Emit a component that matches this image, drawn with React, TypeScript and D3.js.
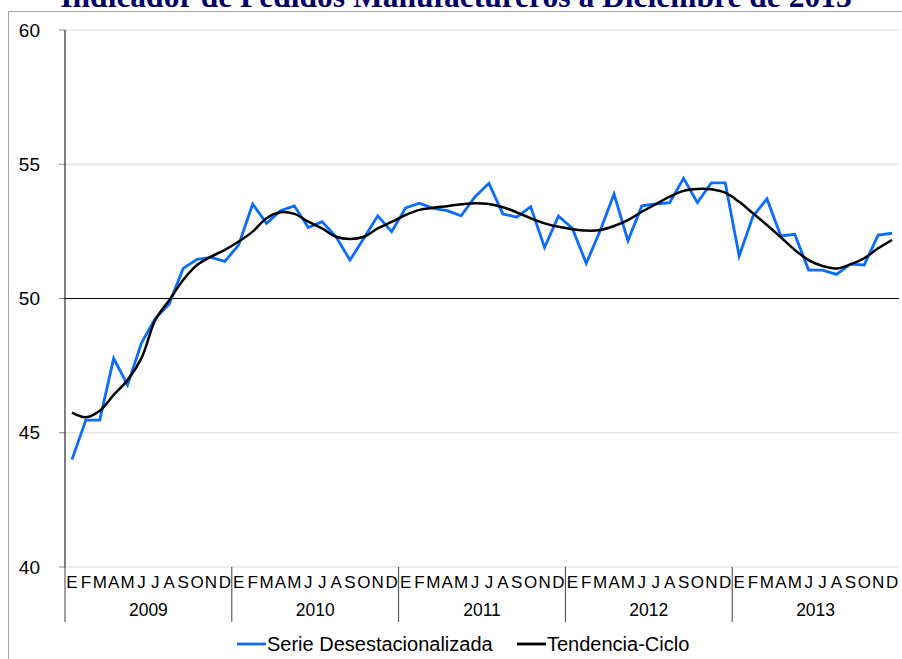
import React from "react";
import * as d3 from "d3";

const years = ["2009", "2010", "2011", "2012", "2013"];
const monthLetters = ["E", "F", "M", "A", "M", "J", "J", "A", "S", "O", "N", "D"];
const yTicks = [40, 45, 50, 55, 60];

// Serie desestacionalizada, ene-2009 .. dic-2013
const serie = [
  44.0, 45.47, 45.47, 47.77, 46.78, 48.34, 49.26, 49.8, 51.12, 51.46, 51.53, 51.38,
  52.0, 53.52, 52.8, 53.27, 53.45, 52.64, 52.86, 52.3, 51.43, 52.24, 53.08, 52.49,
  53.37, 53.55, 53.36, 53.27, 53.08, 53.79, 54.29, 53.15, 53.03, 53.42, 51.9, 53.07,
  52.61, 51.31, 52.52, 53.89, 52.15, 53.45, 53.52, 53.57, 54.48, 53.57, 54.31, 54.31,
  51.58, 53.07, 53.71, 52.33, 52.39, 51.06, 51.06, 50.9, 51.28, 51.25, 52.36, 52.43,
];

// Tendencia-ciclo
const tendencia = [
  45.75, 45.58, 45.82, 46.41, 46.96, 47.78, 49.2, 49.94, 50.69, 51.25, 51.56, 51.81,
  52.12, 52.49, 52.99, 53.21, 53.15, 52.86, 52.61, 52.3, 52.22, 52.3, 52.61, 52.85,
  53.11, 53.3, 53.38, 53.44, 53.51, 53.55, 53.52, 53.4, 53.21, 52.99, 52.8, 52.67,
  52.58, 52.53, 52.55, 52.7, 52.92, 53.23, 53.51, 53.79, 54.01, 54.08, 54.07, 53.94,
  53.6, 53.17, 52.74, 52.28, 51.81, 51.43, 51.21, 51.12, 51.27, 51.5, 51.87, 52.18,
];

const width = 902;
const height = 659;
const margin = { top: 30, right: 3, bottom: 92, left: 65 };
const plotBottom = height - margin.bottom;

export default function App() {
  const x = d3
    .scaleBand<number>()
    .domain(d3.range(serie.length))
    .range([margin.left, width - margin.right]);
  const y = d3.scaleLinear().domain([40, 60]).range([plotBottom, margin.top]);
  const cx = (i: number) => (x(i) as number) + x.bandwidth() / 2;

  const serieLine = d3
    .line<number>()
    .x((_, i) => cx(i))
    .y((d) => y(d));
  const trendLine = d3
    .line<number>()
    .x((_, i) => cx(i))
    .y((d) => y(d))
    .curve(d3.curveCatmullRom.alpha(0.5));

  const font = "'Liberation Sans', Arial, sans-serif";
  const yearW = x.bandwidth() * 12;

  return (
    <svg
      width={width}
      height={height}
      style={{ position: "absolute", left: 0, top: 0, background: "#fff" }}
    >
      <rect x={8.5} y={11.5} width={width} height={height} fill="none" stroke="#a6a6a6" />
      <text
        x={456}
        y={7}
        textAnchor="middle"
        fontFamily="'Liberation Serif', 'Times New Roman', serif"
        fontWeight="bold"
        fontSize={31.5}
        fill="#000066"
      >
        Indicador de Pedidos Manufactureros a Diciembre de 2013
      </text>

      {yTicks.map((t) => (
        <g key={t}>
          {t !== 50 && (
            <line
              x1={margin.left}
              x2={width - margin.right}
              y1={y(t)}
              y2={y(t)}
              stroke="#d9d9d9"
            />
          )}
          <line x1={margin.left - 6} x2={margin.left} y1={y(t)} y2={y(t)} stroke="#808080" />
          <text
            x={40}
            y={y(t)}
            dy="0.35em"
            textAnchor="end"
            fontFamily={font}
            fontSize={19}
            fill="#000"
          >
            {t}
          </text>
        </g>
      ))}
      <line
        x1={margin.left}
        x2={width - margin.right}
        y1={y(50)}
        y2={y(50)}
        stroke="#000"
        strokeWidth={1.2}
      />
      <line x1={margin.left} x2={margin.left} y1={margin.top} y2={plotBottom} stroke="#000" />

      {serie.map((_, i) => (
        <text
          key={i}
          x={cx(i)}
          y={plotBottom + 21}
          textAnchor="middle"
          fontFamily={font}
          fontSize={17}
          fill="#000"
        >
          {monthLetters[i % 12]}
        </text>
      ))}
      {years.map((yr, k) => (
        <g key={yr}>
          <line
            x1={margin.left + k * yearW}
            x2={margin.left + k * yearW}
            y1={plotBottom}
            y2={plotBottom + 55}
            stroke="#404040"
          />
          <text
            x={margin.left + (k + 0.5) * yearW}
            y={plotBottom + 49}
            textAnchor="middle"
            fontFamily={font}
            fontSize={17.5}
            fill="#000"
          >
            {yr}
          </text>
        </g>
      ))}

      <path d={serieLine(serie) ?? ""} fill="none" stroke="#0a6cff" strokeWidth={2.8} strokeLinejoin="miter" />
      <path d={trendLine(tendencia) ?? ""} fill="none" stroke="#000" strokeWidth={2.5} />

      <line x1={237} x2={266} y1={644} y2={644} stroke="#0a6cff" strokeWidth={2.8} />
      <text x={267} y={644} dy="0.35em" fontFamily={font} fontSize={20} fill="#000">
        Serie Desestacionalizada
      </text>
      <line x1={517} x2={546} y1={644} y2={644} stroke="#000" strokeWidth={2.8} />
      <text x={547} y={644} dy="0.35em" fontFamily={font} fontSize={20} fill="#000">
        Tendencia-Ciclo
      </text>
    </svg>
  );
}
